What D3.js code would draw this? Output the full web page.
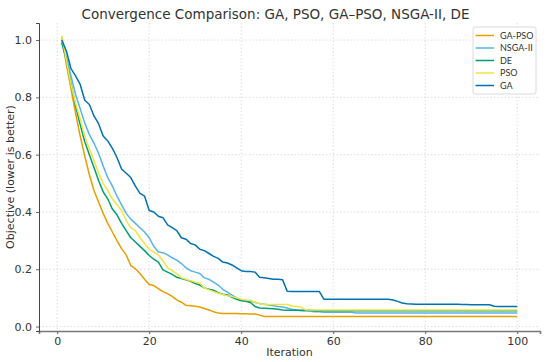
<!DOCTYPE html>
<html>
<head>
<meta charset="utf-8">
<script src="https://cdn.jsdelivr.net/npm/d3@7"></script>
<style>
  body { margin: 0; background: #fff; }
  svg { font-family: "DejaVu Sans", sans-serif; }
</style>
</head>
<body>
<div id="chart"></div>
<script>
// best-so-far objective per iteration (1..100)
var gaPso = [1.01, 0.915, 0.83, 0.745, 0.665, 0.595, 0.53, 0.475, 0.435, 0.395,
    0.36, 0.33, 0.30, 0.272, 0.25, 0.213, 0.202, 0.185, 0.165, 0.147,
    0.143, 0.132, 0.122, 0.115, 0.105, 0.093, 0.085, 0.074, 0.073, 0.071,
    0.068, 0.063, 0.058, 0.052, 0.047, 0.046, 0.046, 0.046, 0.046, 0.045,
    0.045, 0.044, 0.044, 0.040, 0.035, 0.035, 0.035, 0.035, 0.035, 0.035,
    0.035, 0.035, 0.035, 0.035, 0.035, 0.035, 0.035, 0.035, 0.035, 0.035,
    0.035, 0.035, 0.035, 0.035, 0.035, 0.035, 0.035, 0.035, 0.035, 0.035,
    0.035, 0.035, 0.035, 0.035, 0.035, 0.035, 0.035, 0.035, 0.035, 0.035,
    0.035, 0.035, 0.035, 0.035, 0.035, 0.035, 0.035, 0.035, 0.035, 0.035,
    0.035, 0.035, 0.035, 0.035, 0.035, 0.035, 0.035, 0.035, 0.035, 0.035];

var nsga2 = [0.995, 0.94, 0.875, 0.81, 0.76, 0.71, 0.67, 0.64, 0.605, 0.56,
    0.52, 0.49, 0.455, 0.425, 0.395, 0.375, 0.36, 0.345, 0.33, 0.31,
    0.28, 0.26, 0.258, 0.25, 0.24, 0.232, 0.22, 0.205, 0.195, 0.19,
    0.185, 0.17, 0.165, 0.155, 0.145, 0.13, 0.12, 0.11, 0.10, 0.093,
    0.09, 0.088, 0.085, 0.08, 0.078, 0.075, 0.073, 0.07, 0.068, 0.065,
    0.06, 0.058, 0.055, 0.054, 0.053, 0.052, 0.052, 0.05, 0.05, 0.05,
    0.05, 0.05, 0.05, 0.05, 0.047, 0.047, 0.047, 0.047, 0.047, 0.047,
    0.047, 0.047, 0.047, 0.047, 0.047, 0.047, 0.047, 0.047, 0.047, 0.047,
    0.047, 0.047, 0.047, 0.047, 0.047, 0.047, 0.047, 0.047, 0.047, 0.047,
    0.047, 0.047, 0.047, 0.047, 0.047, 0.047, 0.047, 0.047, 0.047, 0.047];

var de = [0.99, 0.93, 0.85, 0.77, 0.705, 0.645, 0.60, 0.555, 0.51, 0.47,
    0.445, 0.41, 0.39, 0.36, 0.335, 0.31, 0.295, 0.28, 0.265, 0.248,
    0.235, 0.225, 0.198, 0.19, 0.182, 0.172, 0.168, 0.163, 0.158, 0.15,
    0.145, 0.135, 0.13, 0.127, 0.118, 0.113, 0.11, 0.102, 0.095, 0.09,
    0.088, 0.084, 0.07, 0.065, 0.064, 0.063, 0.062, 0.06, 0.058, 0.057,
    0.057, 0.057, 0.057, 0.057, 0.057, 0.055, 0.055, 0.055, 0.055, 0.055,
    0.055, 0.055, 0.055, 0.055, 0.055, 0.055, 0.055, 0.055, 0.055, 0.055,
    0.055, 0.055, 0.055, 0.055, 0.055, 0.055, 0.055, 0.055, 0.055, 0.055,
    0.055, 0.055, 0.055, 0.055, 0.055, 0.055, 0.055, 0.055, 0.055, 0.055,
    0.055, 0.055, 0.055, 0.055, 0.055, 0.055, 0.055, 0.055, 0.055, 0.055];

var pso = [1.015, 0.93, 0.845, 0.78, 0.725, 0.665, 0.62, 0.58, 0.535, 0.50,
    0.475, 0.445, 0.425, 0.405, 0.37, 0.345, 0.335, 0.31, 0.29, 0.27,
    0.26, 0.25, 0.23, 0.205, 0.195, 0.185, 0.17, 0.165, 0.16, 0.155,
    0.152, 0.135, 0.128, 0.122, 0.116, 0.112, 0.108, 0.105, 0.10, 0.095,
    0.093, 0.092, 0.085, 0.08, 0.077, 0.077, 0.077, 0.077, 0.077, 0.077,
    0.072, 0.07, 0.068, 0.058, 0.058, 0.058, 0.058, 0.058, 0.058, 0.058,
    0.058, 0.058, 0.058, 0.058, 0.058, 0.058, 0.058, 0.058, 0.058, 0.058,
    0.058, 0.058, 0.058, 0.058, 0.058, 0.058, 0.058, 0.058, 0.058, 0.058,
    0.058, 0.058, 0.058, 0.058, 0.058, 0.058, 0.058, 0.058, 0.058, 0.058,
    0.058, 0.058, 0.058, 0.058, 0.058, 0.058, 0.058, 0.058, 0.058, 0.058];

var ga = [1.00, 0.962, 0.90, 0.875, 0.845, 0.79, 0.775, 0.735, 0.708, 0.665,
    0.648, 0.622, 0.59, 0.55, 0.535, 0.52, 0.49, 0.465, 0.455, 0.405,
    0.40, 0.385, 0.38, 0.355, 0.345, 0.335, 0.31, 0.305, 0.29, 0.285,
    0.27, 0.265, 0.255, 0.245, 0.238, 0.225, 0.222, 0.215, 0.205, 0.195,
    0.192, 0.192, 0.19, 0.172, 0.17, 0.168, 0.165, 0.165, 0.163, 0.123,
    0.122, 0.122, 0.122, 0.122, 0.122, 0.122, 0.122, 0.095, 0.095, 0.095,
    0.095, 0.095, 0.095, 0.095, 0.095, 0.095, 0.095, 0.095, 0.095, 0.095,
    0.095, 0.095, 0.093, 0.088, 0.082, 0.08, 0.079, 0.078, 0.078, 0.078,
    0.078, 0.078, 0.078, 0.078, 0.078, 0.078, 0.078, 0.077, 0.077, 0.076,
    0.076, 0.076, 0.076, 0.076, 0.071, 0.070, 0.070, 0.070, 0.070, 0.070];

var seriesNames = ["GA-PSO", "NSGA-II", "DE", "PSO", "GA"];
var seriesData = [gaPso, nsga2, de, pso, ga];
var seriesColors = ["#E69F00", "#56B4E9", "#009E73", "#F0E442", "#0072B2"];
var xTicks = [0, 20, 40, 60, 80, 100];
var yTicks = [0.0, 0.2, 0.4, 0.6, 0.8, 1.0];

var width = 550, height = 362;
var margin = {top: 23, right: 10, bottom: 31, left: 39};

var svg = d3.select("#chart").append("svg")
    .attr("width", width).attr("height", height);

var x = d3.scaleLinear().domain([-3.95, 104.95])
    .range([margin.left, width - margin.right]);
var y = d3.scaleLinear().domain([-0.0155, 1.0595])
    .range([height - margin.bottom, margin.top]);

// dotted grid
svg.append("g").selectAll("line").data(xTicks).enter().append("line")
    .attr("x1", function (d) { return x(d); }).attr("x2", function (d) { return x(d); })
    .attr("y1", margin.top).attr("y2", height - margin.bottom)
    .attr("stroke", "#d6d6d6").attr("stroke-width", 0.8).attr("stroke-dasharray", "1.5,2");
svg.append("g").selectAll("line").data(yTicks).enter().append("line")
    .attr("y1", function (d) { return y(d); }).attr("y2", function (d) { return y(d); })
    .attr("x1", margin.left).attr("x2", width - margin.right)
    .attr("stroke", "#d6d6d6").attr("stroke-width", 0.8).attr("stroke-dasharray", "1.5,2");

// axes
var xAxis = svg.append("g")
    .attr("transform", "translate(0," + (height - margin.bottom) + ")")
    .call(d3.axisBottom(x).tickValues(xTicks).tickSize(3).tickPadding(3));
var yAxis = svg.append("g")
    .attr("transform", "translate(" + margin.left + ",0)")
    .call(d3.axisLeft(y).tickValues(yTicks).tickFormat(d3.format(".1f")).tickSize(3).tickPadding(4));

xAxis.select(".domain").attr("stroke", "#777").attr("stroke-width", 1.6);
yAxis.select(".domain").attr("stroke", "#444").attr("stroke-width", 1);
svg.selectAll(".tick line").attr("stroke", "#666");
svg.selectAll(".tick text").attr("fill", "#333").style("font-size", "11px")
    .style("font-family", "DejaVu Sans, sans-serif");

// lines
var line = d3.line()
    .x(function (d, i) { return x(i + 1); })
    .y(function (d) { return y(d); });

svg.append("g").selectAll("path").data(seriesData).enter().append("path")
    .attr("d", line)
    .attr("fill", "none")
    .attr("stroke", function (d, i) { return seriesColors[i]; })
    .attr("stroke-width", 1.5)
    .attr("stroke-linejoin", "round");

// title and labels
svg.append("text").attr("x", 275.5).attr("y", 19)
    .attr("text-anchor", "middle").attr("fill", "#333")
    .style("font-size", "13.5px")
    .text("Convergence Comparison: GA, PSO, GA\u2013PSO, NSGA-II, DE");

svg.append("text").attr("x", (margin.left + width - margin.right) / 2).attr("y", 356)
    .attr("text-anchor", "middle").attr("fill", "#333").style("font-size", "11px")
    .text("Iteration");

svg.append("text")
    .attr("transform", "translate(14," + ((margin.top + height - margin.bottom) / 2) + ") rotate(-90)")
    .attr("text-anchor", "middle").attr("fill", "#333").style("font-size", "11px")
    .text("Objective (lower is better)");

// legend
var legend = svg.append("g").attr("transform", "translate(473,27)");
legend.append("rect").attr("width", 63).attr("height", 67).attr("rx", 2)
    .attr("fill", "#fff").attr("fill-opacity", 0.85)
    .attr("stroke", "#d0d0d0").attr("stroke-width", 0.8);
var rows = legend.selectAll(".row").data(seriesNames).enter().append("g")
    .attr("transform", function (d, i) { return "translate(0," + (8.5 + i * 12.5) + ")"; });
rows.append("line").attr("x1", 2.5).attr("x2", 21)
    .attr("stroke", function (d, i) { return seriesColors[i]; }).attr("stroke-width", 1.5);
rows.append("text").attr("x", 27).attr("y", 3.2)
    .attr("fill", "#333").style("font-size", "9px").style("font-family", "Lato, sans-serif")
    .text(function (d) { return d; });
</script>
</body>
</html>
